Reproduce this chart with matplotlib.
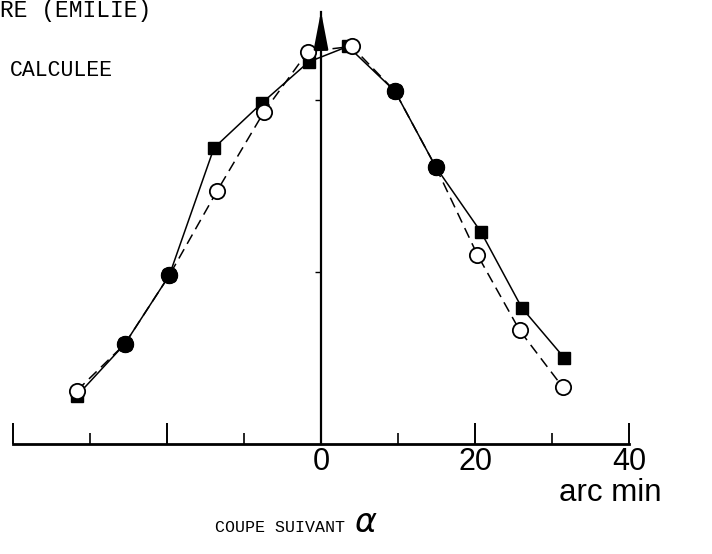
import matplotlib.pyplot as plt
import numpy as np

# cut in alpha, arc min ; intensity in arbitrary units
alpha_calc = [-31.7, -25.5, -19.7, -13.9, -7.7, -1.6, 3.5, 9.6, 14.9, 20.8, 26.1, 31.6]
calc = [0.28, 0.58, 0.98, 1.72, 1.98, 2.22, 2.31, 2.05, 1.61, 1.23, 0.79, 0.50]
alpha_mes = [-31.7, -25.5, -19.7, -13.5, -7.4, -1.7, 4.0, 9.6, 14.9, 20.3, 25.8, 31.4]
mes = [0.31, 0.58, 0.98, 1.47, 1.93, 2.28, 2.31, 2.05, 1.61, 1.10, 0.66, 0.33]
xticks = [-40, -20, 0, 20, 40]
xticklabels = ['', '', '0', '20', '40']

fig = plt.figure(figsize=(7.12, 5.54), dpi=100)
ax = fig.add_axes([13 / 712, 110 / 554, 616 / 712, 432 / 554])

ax.plot(alpha_mes, mes, color='k', lw=1.1, ls=(0, (7, 4)), marker='o', ms=11,
        mfc='white', mec='k', mew=1.3, zorder=3)
ax.plot(alpha_calc, calc, color='k', lw=1.1, marker='s', ms=8.5,
        mfc='k', mec='k', zorder=2)

# points where both curves coincide show as filled circles
same = [i for i in range(len(calc)) if calc[i] == mes[i] and alpha_calc[i] == alpha_mes[i]]
ax.plot([alpha_calc[i] for i in same], [calc[i] for i in same], ls='none',
        marker='o', ms=11.5, mfc='k', mec='k', zorder=4)

ax.set_xlim(-40, 40)
ax.set_ylim(0, 2.51)
for s in ['top', 'right']:
    ax.spines[s].set_visible(False)
ax.spines['bottom'].set_linewidth(2)
ax.spines['left'].set_position(('data', 0))
ax.spines['left'].set_linewidth(1.6)

ax.set_xticks(xticks)
ax.set_xticklabels(xticklabels, fontsize=22, family='Liberation Sans')
ax.set_xticks([-30, -10, 10, 30], minor=True)
ax.tick_params(axis='x', which='major', direction='in', length=15, width=1.4, pad=2)
ax.tick_params(axis='x', which='minor', direction='in', length=8, width=1.2)
ax.set_yticks([1, 2])
ax.set_yticklabels([])
ax.tick_params(axis='y', direction='out', length=4, width=1)

ax.annotate('', xy=(0, 2.53), xytext=(0, 2.35),
            arrowprops=dict(arrowstyle='-|>,head_length=1.3,head_width=0.25',
                            color='k', lw=1.6, mutation_scale=18),
            annotation_clip=False)

fig.text(0, 1 - 17 / 554, 'RE (EMILIE)', family='Liberation Mono', fontsize=16.5,
         va='baseline', ha='left')
fig.text(10 / 712, 1 - 76 / 554, 'CALCULEE', family='Liberation Mono', fontsize=15.5,
         va='baseline', ha='left')
fig.text(610 / 712, 1 - 493 / 554, 'arc min', family='Liberation Sans', fontsize=22.5,
         va='center', ha='center')
fig.text(215 / 712, 1 - 532 / 554, 'COUPE SUIVANT', family='Liberation Mono', fontsize=12,
         va='baseline', ha='left')
fig.text(354 / 712, 1 - 532 / 554, r'$\alpha$', fontsize=24, va='baseline', ha='left')

fig.savefig('out.png', dpi=100)
